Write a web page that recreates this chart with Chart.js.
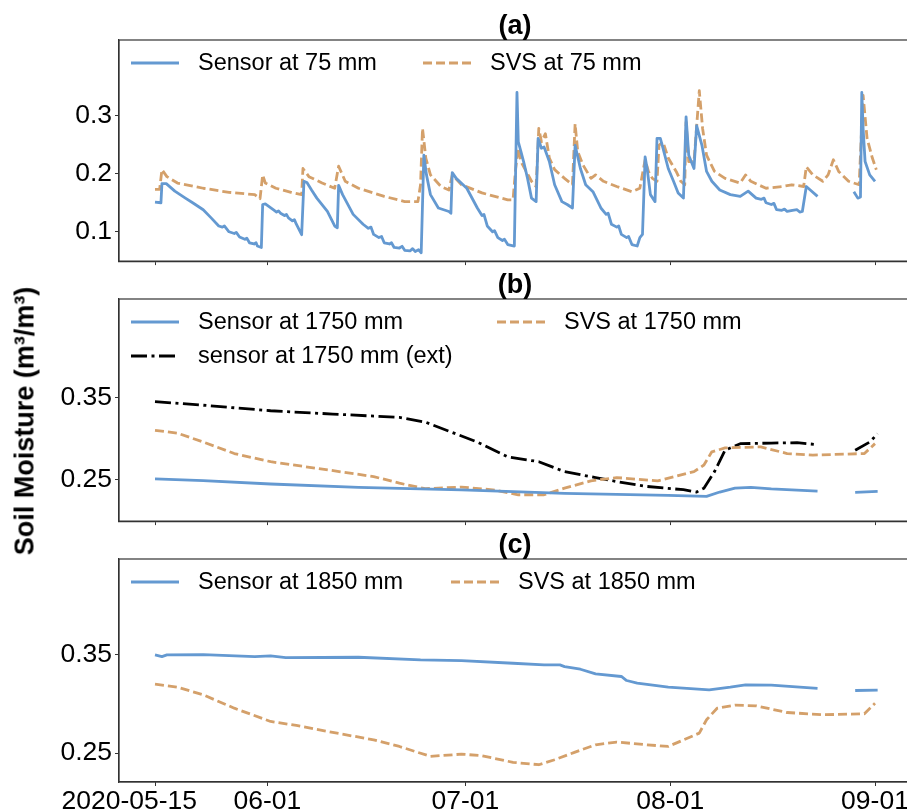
<!DOCTYPE html>
<html>
<head>
<meta charset="utf-8">
<script src="https://cdn.jsdelivr.net/npm/chart.js@4.4.1/dist/chart.umd.min.js"></script>
<style>
html,body{margin:0;padding:0;width:907px;height:809px;overflow:hidden;background:#fff;}
canvas{position:absolute;left:0;}
#ylab{position:absolute;left:25px;top:421px;transform:translate(-50%,-50%) rotate(-90deg);
  font:bold 27px "Liberation Sans", Arial, sans-serif;white-space:nowrap;color:#000;}
</style>
</head>
<body>
<canvas id="ca" width="930" height="280" style="top:0px"></canvas>
<canvas id="cb" width="930" height="278" style="top:262px"></canvas>
<canvas id="cc" width="930" height="287" style="top:522px"></canvas>
<div id="ylab">Soil Moisture (m³/m³)</div>
<script>
// ---------- data (x = days since 2020-05-15) ----------
const startDate = '2020-05-15';
const xTickDays = [0, 17, 47, 78, 109];
const xTickLabels = ['2020-05-15       ', '06-01', '07-01', '08-01', '09-01'];

const panelTitles = ['(a)', '(b)', '(c)'];
const yTicksA = [0.1, 0.2, 0.3];
const yTickLabelsA = ['0.1', '0.2', '0.3'];
const yTicksBC = [0.25, 0.35];
const yTickLabelsBC = ['0.25', '0.35'];

// Panel (a) 75 mm
const sensor75Days = [
  0,0.9,1.05,1.7,3.0,4.6,5.7,7.3,8.5,9.65,10.2,10.5,11.2,12.0,12.3,12.8,13.6,13.9,14.3,15.0,15.3,15.5,16.1,
  16.3,16.7,17.9,18.4,18.7,19.0,19.6,19.9,20.2,20.8,21.1,21.4,22.2,
  22.55,23,23.7,24.5,26.1,27.2,27.6,
  27.8,28.4,30,31.5,32.3,32.7,33.1,33.9,34.3,34.7,35.5,35.8,36.2,37.0,37.4,37.8,38.6,39.0,39.4,39.9,40.3,
  40.7,41.1,41.7,42.9,44.5,44.8,
  45.0,45.6,47.2,48.8,49.5,49.8,50.3,51.1,51.4,51.9,52.6,52.9,53.4,54.4,
  54.8,55.0,55.4,55.8,56.4,57.0,57.7,
  58.0,58.5,58.9,59.7,60.5,61.6,62.4,63.2,
  63.6,64.4,65.2,66.3,67.5,68.3,68.6,69.1,69.9,70.2,70.6,71.4,71.7,72.2,73.0,73.4,73.8,
  74.2,74.5,75.0,75.7,
  76.0,76.5,76.9,77.7,78.5,79.2,80.0,
  80.4,80.8,81.6,
  82.0,82.8,83.5,84.3,85.5,87.1,88.6,89.8,91.0,91.8,92.2,92.5,93.3,93.7,94.1,94.9,95.3,95.7,96.5,97.2,97.6,98.0,
  98.6,99.2,100.3,103,
  105.8,106.4,106.8,107.0,107.2,107.5,108.2,109];
const sensor75Values = [
  0.151,0.150,0.183,0.183,0.170,0.158,0.150,0.138,0.124,0.110,0.108,0.110,0.100,0.097,0.099,0.091,0.087,0.089,0.081,0.079,0.081,0.0755,0.073,
  0.147,0.148,0.138,0.134,0.136,0.132,0.128,0.130,0.124,0.119,0.121,0.113,0.095,
  0.187,0.185,0.172,0.158,0.135,0.110,0.107,
  0.180,0.164,0.130,0.113,0.106,0.108,0.0955,0.090,0.092,0.081,0.079,0.081,0.073,0.072,0.075,0.068,0.067,0.071,0.066,0.069,0.064,
  0.232,0.198,0.164,0.141,0.135,0.132,
  0.202,0.192,0.175,0.141,0.128,0.130,0.110,0.100,0.102,0.090,0.085,0.087,0.078,0.0755,
  0.340,0.255,0.238,0.221,0.192,0.158,0.152,
  0.261,0.244,0.246,0.221,0.181,0.152,0.147,0.141,
  0.249,0.209,0.181,0.169,0.141,0.130,0.132,0.113,0.108,0.110,0.0955,0.090,0.092,0.078,0.0755,0.090,0.0955,
  0.229,0.209,0.164,0.152,
  0.261,0.261,0.244,0.209,0.187,0.167,0.158,
  0.298,0.232,0.209,
  0.283,0.249,0.204,0.187,0.172,0.164,0.161,0.170,0.158,0.156,0.158,0.150,0.147,0.149,0.138,0.137,0.139,0.135,0.137,0.138,0.134,0.135,
  0.178,0.172,0.161,null,
  0.169,0.158,0.160,0.340,0.278,0.221,0.198,0.187];

const svs75Days = [0,0.7,1.05,1.8,3.4,7.3,11.2,15.1,15.9,16.3,16.7,18.3,20.6,22.2,22.4,23.3,25.3,27.2,27.8,28.8,30.8,34.7,37.8,39.8,40.2,40.5,41.0,41.7,43.3,44.5,45.0,46.4,49.5,53.4,54.2,54.6,55.0,55.4,56.2,57.0,57.7,58.1,58.5,59.1,59.7,60.5,62.0,63.2,63.6,64.0,64.8,66.0,66.7,67.9,69.9,72.2,73.4,74.2,74.7,75.3,76.0,76.3,76.9,77.7,78.9,79.6,80.2,80.4,80.8,81.6,82.4,82.9,83.5,84.7,86.3,88.6,89.4,90.2,92.5,94.9,96.4,98.2,98.6,99.6,101.1,101.9,102.7,103.5,105.0,106.6,107.2,107.8,108.6,109.2];
const svs75Values = [0.173,0.173,0.207,0.195,0.184,0.175,0.168,0.164,0.157,0.198,0.184,0.175,0.168,0.164,0.209,0.195,0.184,0.175,0.213,0.187,0.175,0.161,0.152,0.152,0.181,0.278,0.227,0.198,0.178,0.172,0.198,0.181,0.167,0.155,0.155,0.209,0.244,0.221,0.204,0.187,0.178,0.278,0.255,0.269,0.227,0.207,0.192,0.181,0.286,0.238,0.215,0.192,0.198,0.187,0.178,0.169,0.175,0.224,0.204,0.192,0.187,0.249,0.255,0.227,0.204,0.187,0.181,0.289,0.221,0.221,0.343,0.278,0.232,0.204,0.192,0.184,0.198,0.187,0.175,0.178,0.181,0.178,0.212,0.198,0.187,0.198,0.224,0.204,0.187,0.181,0.335,0.261,0.227,0.207];

// Panel (b) 1750 mm
const sensor1750Days = [0,7.3,17.5,30.8,46.4,62,77.7,83.5,85.5,87.8,90.2,93.3,100.3,103,106,109.4];
const sensor1750Values = [0.2512,0.249,0.245,0.241,0.238,0.2337,0.2313,0.230,0.2353,0.240,0.241,0.239,0.2365,null,0.235,0.236];
const svs1750Days = [0,3.4,7.3,12,17.5,24.5,33.1,37,40.9,46.4,51.1,55,58.9,62,66,69.9,76.1,81.6,83.1,84.3,86.3,91.7,95.7,99.6,107.4,109];
const svs1750Values = [0.310,0.3066,0.2958,0.2819,0.272,0.264,0.254,0.246,0.2393,0.2413,0.238,0.232,0.232,0.240,0.2488,0.2528,0.2488,0.260,0.268,0.284,0.2887,0.290,0.2819,0.280,0.2819,0.2939];
const ext1750Days = [0,7.3,17.5,26.9,37,40.9,44.8,48.8,53.4,58.1,62,66.7,69.9,74.5,80,82,83.1,84.7,86.3,88.6,93.3,97.2,100.3,103,106,108.2,109.4];
const ext1750Values = [0.3448,0.3404,0.3337,0.3297,0.3257,0.320,0.308,0.2958,0.2779,0.272,0.260,0.2528,0.248,0.242,0.2381,0.2353,0.240,0.260,0.2859,0.2938,0.2946,0.295,0.2927,null,0.2859,0.2958,0.3058];

// Panel (c) 1850 mm
const sensor1850Days = [0,1.05,1.8,7.3,15.1,17.5,19.8,30.8,40.2,46.4,54.2,58.9,61.3,62,64.4,66.7,70.6,71.4,73,77.7,83.9,87.1,89.4,93.3,100.3,103,106,109.4];
const sensor1850Values = [0.350,0.3483,0.350,0.3503,0.3483,0.349,0.3473,0.3476,0.3449,0.3442,0.3415,0.3398,0.3398,0.3381,0.3354,0.3307,0.328,0.3239,0.3212,0.3171,0.3144,0.3171,0.3195,0.3191,0.3158,null,0.3137,0.3141];
const svs1850Days = [0,3.4,7.3,12,17.5,21.4,26.9,33.1,37,41.7,46.4,49.5,54.2,58.1,60.5,63.6,66.7,69.9,74.5,77.7,82.4,83.5,85.1,87.8,91,95.7,101.1,107.4,109];
const svs1850Values = [0.3202,0.3171,0.3093,0.2957,0.2822,0.2781,0.271,0.2635,0.2567,0.2466,0.2489,0.2473,0.2405,0.2381,0.2432,0.251,0.2584,0.2612,0.2584,0.2567,0.2703,0.2839,0.2957,0.2988,0.2981,0.2913,0.289,0.290,0.3008];

// ---------- styling ----------
const FONT = '"Liberation Sans", Arial, sans-serif';
const BLUE = '#6499d1';
const ORANGE = '#d4a06a';
const BLACK = '#000000';
const LW = 2.8;
const X_MIN = -5.45, X_MAX = 114.45;

function pts(days, vals){ return days.map((d,i)=>({x:d, y:vals[i]})); }

const framePlugin = {
  id:'frame',
  afterDraw(chart){
    const {ctx, chartArea:a} = chart;
    ctx.save();
    ctx.strokeStyle = '#333'; ctx.lineWidth = 1.2;
    ctx.strokeRect(a.left, a.top, a.right - a.left, a.bottom - a.top);
    ctx.restore();
  }
};
const titlePlugin = {
  id:'panelTitle',
  afterDraw(chart, args, opts){
    const {ctx, chartArea:a} = chart;
    ctx.save();
    ctx.font = 'bold 27px ' + FONT;
    ctx.fillStyle = '#000'; ctx.textAlign = 'center'; ctx.textBaseline = 'alphabetic';
    ctx.fillText(opts.text, (a.left + a.right)/2, a.top - 6);
    ctx.restore();
  }
};
const legendPlugin = {
  id:'lineLegend',
  afterDraw(chart, args, opts){
    const {ctx, chartArea:a} = chart;
    ctx.save();
    opts.items.forEach(it=>{
      const ds = chart.data.datasets[it.ds];
      const y = a.top + it.y, x = a.left + it.x;
      ctx.strokeStyle = ds.borderColor; ctx.lineWidth = ds.borderWidth;
      ctx.setLineDash(ds.borderDash || []);
      ctx.beginPath(); ctx.moveTo(x, y); ctx.lineTo(x + 48, y); ctx.stroke();
      ctx.setLineDash([]);
      ctx.font = '23.5px ' + FONT; ctx.fillStyle = '#000';
      ctx.textAlign = 'left'; ctx.textBaseline = 'middle';
      ctx.fillText(ds.label, x + 67, y + 1);
    });
    ctx.restore();
  }
};

function makePanel(id, datasets, o){
  return new Chart(document.getElementById(id), {
    type:'line',
    data:{datasets},
    plugins:[framePlugin, titlePlugin, legendPlugin],
    options:{
      responsive:false, animation:false, devicePixelRatio:1,
      layout:{padding:{top:o.padTop, left:0, right:19, bottom:0}},
      elements:{point:{radius:0}, line:{tension:0, borderWidth:LW, borderCapStyle:'butt', borderJoinStyle:'round'}},
      plugins:{legend:{display:false}, tooltip:{enabled:false},
        panelTitle:{text:o.title}, lineLegend:{items:o.legend}},
      scales:{
        x:{type:'linear', min:X_MIN, max:X_MAX,
          afterBuildTicks:s=>{ s.ticks = xTickDays.map(v=>({value:v})); },
          ticks:{display:o.xLabels, autoSkip:false, maxRotation:0, padding:0, color:'#000',
            font:{family:FONT, size:26.5}, callback:(v,i)=>xTickLabels[i]},
          grid:{drawOnChartArea:false, drawTicks:true, tickLength:4, color:'#333', lineWidth:1},
          border:{display:true, color:'#333', width:1.2},
          afterFit:s=>{ s.height = o.xHeight; }
        },
        y:{type:'linear', min:o.yMin, max:o.yMax,
          afterBuildTicks:s=>{ s.ticks = o.yTicks.map(v=>({value:v})); },
          ticks:{autoSkip:false, padding:3, color:'#000', font:{family:FONT, size:26.5},
            callback:(v,i)=>o.yTickLabels[i]},
          grid:{drawOnChartArea:false, drawTicks:true, tickLength:4, color:'#333', lineWidth:1},
          border:{display:true, color:'#333', width:1.2},
          afterFit:s=>{ s.width = 119; }
        }
      }
    }
  });
}

makePanel('ca', [
  {label:'Sensor at 75 mm', data:pts(sensor75Days, sensor75Values), borderColor:BLUE, borderWidth:LW, spanGaps:false},
  {label:'SVS at 75 mm', data:pts(svs75Days, svs75Values), borderColor:ORANGE, borderWidth:LW, borderDash:[9,4]}
], {padTop:40, xHeight:16, xLabels:false, yMin:0.0495, yMax:0.4304, yTicks:yTicksA, yTickLabels:yTickLabelsA,
   title:panelTitles[0], legend:[{ds:0,x:12,y:23},{ds:1,x:304,y:23}]});

makePanel('cb', [
  {label:'Sensor at 1750 mm', data:pts(sensor1750Days, sensor1750Values), borderColor:BLUE, borderWidth:LW, spanGaps:false},
  {label:'SVS at 1750 mm', data:pts(svs1750Days, svs1750Values), borderColor:ORANGE, borderWidth:LW, borderDash:[9,4]},
  {label:'sensor at 1750 mm (ext)', data:pts(ext1750Days, ext1750Values), borderColor:BLACK, borderWidth:LW, borderDash:[16,4.5,3,4.5], spanGaps:false}
], {padTop:37, xHeight:17, xLabels:false, yMin:0.2001, yMax:0.469, yTicks:yTicksBC, yTickLabels:yTickLabelsBC,
   title:panelTitles[1], legend:[{ds:0,x:12,y:23},{ds:1,x:378,y:23},{ds:2,x:12,y:57}]});

makePanel('cc', [
  {label:'Sensor at 1850 mm', data:pts(sensor1850Days, sensor1850Values), borderColor:BLUE, borderWidth:LW, spanGaps:false},
  {label:'SVS at 1850 mm', data:pts(svs1850Days, svs1850Values), borderColor:ORANGE, borderWidth:LW, borderDash:[9,4]}
], {padTop:37, xHeight:27, xLabels:true, yMin:0.2205, yMax:0.4477, yTicks:yTicksBC, yTickLabels:yTickLabelsBC,
   title:panelTitles[2], legend:[{ds:0,x:12,y:23},{ds:1,x:332,y:23}]});
</script>
</body>
</html>
